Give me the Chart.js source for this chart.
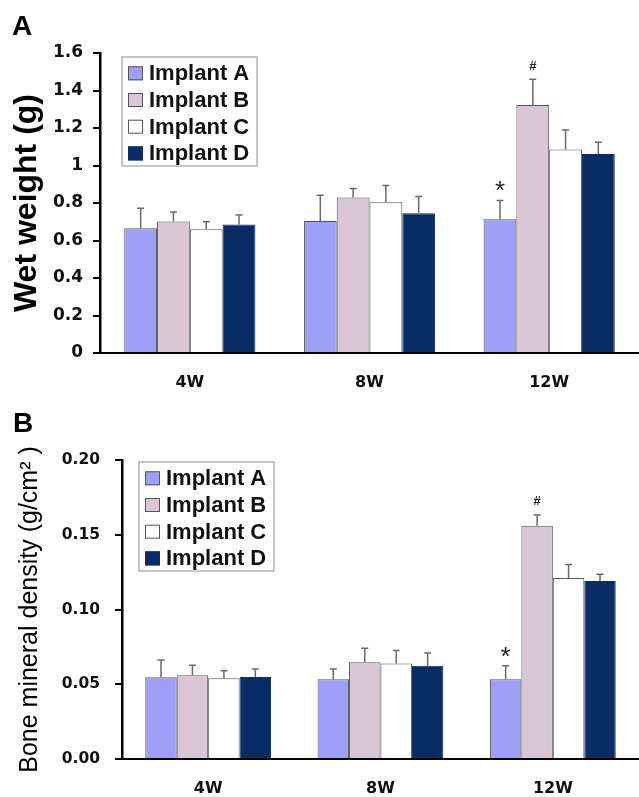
<!DOCTYPE html>
<html>
<head>
<meta charset="utf-8">
<script src="https://cdn.jsdelivr.net/npm/chart.js@4/dist/chart.umd.min.js"></script>
<style>
  html, body { margin: 0; padding: 0; background: #ffffff; }
  #wrapA { position: absolute; left: 0; top: 0; width: 639px; height: 400px; }
  #wrapB { position: absolute; left: 0; top: 400px; width: 639px; height: 397px; }
</style>
</head>
<body>
<div id="wrapA"><canvas id="cA" width="639" height="400"></canvas></div>
<div id="wrapB"><canvas id="cB" width="639" height="397"></canvas></div>
<script>
// ---------- data ----------
const categories = ['4W', '8W', '12W'];
const seriesNames = ['Implant A', 'Implant B', 'Implant C', 'Implant D'];

const wetA = [0.665, 0.704, 0.713];
const wetB = [0.702, 0.830, 1.323];
const wetC = [0.660, 0.804, 1.086];
const wetD = [0.686, 0.745, 1.061];
const wetErrA = [0.107, 0.137, 0.100];
const wetErrB = [0.050, 0.048, 0.137];
const wetErrC = [0.040, 0.090, 0.103];
const wetErrD = [0.050, 0.090, 0.063];

const bmdA = [0.0546, 0.0533, 0.0533];
const bmdB = [0.0560, 0.0647, 0.1560];
const bmdC = [0.0540, 0.0638, 0.1210];
const bmdD = [0.0548, 0.0624, 0.1190];
const bmdErrA = [0.0116, 0.0069, 0.0091];
const bmdErrB = [0.0067, 0.0093, 0.0072];
const bmdErrC = [0.0050, 0.0087, 0.0091];
const bmdErrD = [0.0054, 0.0085, 0.0045];

const marksA = ['', '', '*'];
const marksB = ['', '', '#'];

const wetTickValues = [0, 0.2, 0.4, 0.6, 0.8, 1, 1.2, 1.4, 1.6];
const wetTickLabels = ['0', '0.2', '0.4', '0.6', '0.8', '1', '1.2', '1.4', '1.6'];
const bmdTickValues = [0, 0.05, 0.10, 0.15, 0.20];
const bmdTickLabels = ['0.00', '0.05', '0.10', '0.15', '0.20'];

// ---------- styles ----------
function makeHatch() {
  const c = document.createElement('canvas');
  c.width = 4; c.height = 4;
  const g = c.getContext('2d');
  g.fillStyle = '#a1a1f7'; g.fillRect(0, 0, 4, 4);
  g.fillStyle = '#9999ef';
  g.fillRect(0, 0, 1, 1); g.fillRect(2, 2, 1, 1); g.fillRect(2, 0, 1, 1); g.fillRect(0, 2, 1, 1);
  return g.createPattern(c, 'repeat');
}
const hatchA = makeHatch();
const fills = [hatchA, '#d9c7d5', '#ffffff', '#0a2c66'];
const borders = ['#555555', '#555555', '#555555', '#0a2c66'];

// ---------- plugins ----------
const errorBarPlugin = {
  id: 'errorBars',
  afterDatasetsDraw(chart, args, o) {
    const ctx = chart.ctx, y = chart.scales.y;
    chart.data.datasets.forEach((ds, di) => {
      const meta = chart.getDatasetMeta(di);
      meta.data.forEach((bar, i) => {
        const v = ds.data[i], e = ds.errors[i];
        const yBar = y.getPixelForValue(v);
        const yTop = y.getPixelForValue(v + e);
        ctx.save();
        ctx.strokeStyle = '#6a6a6a';
        ctx.lineWidth = 1.5;
        ctx.beginPath();
        ctx.moveTo(bar.x, yBar); ctx.lineTo(bar.x, yTop);
        ctx.moveTo(bar.x - 3.5, yTop); ctx.lineTo(bar.x + 3.5, yTop);
        ctx.stroke();
        const m = ds.marks ? ds.marks[i] : '';
        if (m) {
          ctx.fillStyle = '#222';
          ctx.textAlign = 'center';
          ctx.textBaseline = 'alphabetic';
          if (m === '*') {
            const s = 26;
            ctx.font = s + 'px "Liberation Sans", Arial, sans-serif';
            const cy = yTop - o.starGap;
            ctx.fillText(m, bar.x, cy + 0.575 * s);
          } else {
            const s = 13;
            ctx.font = 'bold ' + s + 'px "Liberation Sans", Arial, sans-serif';
            const cy = yTop - o.hashGap;
            ctx.fillText(m, bar.x, cy + 0.35 * s);
          }
        }
        ctx.restore();
      });
    });
  }
};

const insetLegendPlugin = {
  id: 'insetLegend',
  afterDraw(chart, args, o) {
    const ctx = chart.ctx, a = chart.chartArea;
    const x0 = a.left + o.dx, y0 = a.top + o.dy;
    ctx.save();
    ctx.strokeStyle = '#b4b4b4';
    ctx.lineWidth = 1.5;
    ctx.strokeRect(x0, y0, 135, 109);
    chart.data.datasets.forEach((ds, i) => {
      const cy = y0 + 16.3 + i * 26.7;
      ctx.fillStyle = ds.backgroundColor;
      ctx.fillRect(x0 + 6, cy - 7, 15, 14);
      ctx.strokeStyle = ds.borderColor;
      ctx.lineWidth = 1;
      ctx.strokeRect(x0 + 6.5, cy - 6.5, 14, 13);
      ctx.fillStyle = '#111';
      ctx.font = 'bold 22px "Liberation Sans", Arial, sans-serif';
      ctx.textAlign = 'left';
      ctx.textBaseline = 'middle';
      ctx.fillText(ds.label, x0 + 27, cy + 1);
    });
    ctx.restore();
  }
};

const panelLabelPlugin = {
  id: 'panelLabel',
  afterDraw(chart, args, o) {
    const ctx = chart.ctx;
    ctx.save();
    ctx.fillStyle = '#000';
    ctx.font = 'bold 28px "Liberation Sans", Arial, sans-serif';
    ctx.textAlign = 'left';
    ctx.textBaseline = 'alphabetic';
    ctx.fillText(o.text, o.x, o.y);
    ctx.restore();
  }
};

// ---------- builder ----------
function buildDatasets(vals, errs) {
  return seriesNames.map((name, i) => ({
    label: name,
    data: vals[i],
    errors: errs[i],
    marks: i === 0 ? marksA : (i === 1 ? marksB : null),
    backgroundColor: fills[i],
    borderColor: borders[i],
    borderWidth: 1,
    categoryPercentage: 0.73,
    barPercentage: 1.0
  }));
}

function makeChart(id, cfg) {
  return new Chart(document.getElementById(id), {
    type: 'bar',
    data: { labels: categories, datasets: buildDatasets(cfg.vals, cfg.errs) },
    plugins: [errorBarPlugin, insetLegendPlugin, panelLabelPlugin],
    options: {
      responsive: false,
      animation: false,
      layout: { padding: { top: cfg.top, left: 0, right: 0, bottom: 0 } },
      plugins: {
        legend: { display: false },
        tooltip: { enabled: false },
        errorBars: { starGap: cfg.starGap, hashGap: cfg.hashGap },
        insetLegend: { dx: cfg.legDx, dy: cfg.legDy },
        panelLabel: cfg.panel
      },
      scales: {
        x: {
          grid: { display: false, drawTicks: false },
          border: { display: true, color: '#000', width: 2 },
          ticks: {
            color: '#111',
            padding: cfg.xPad,
            font: { family: '"DejaVu Sans", sans-serif', weight: 'bold', size: 16 }
          },
          afterFit(s) { s.height = cfg.xH; }
        },
        y: {
          min: 0,
          max: cfg.max,
          afterBuildTicks(s) { s.ticks = cfg.tickValues.map(v => ({ value: v })); },
          grid: { drawOnChartArea: false, drawTicks: true, tickLength: 7, color: '#000', lineWidth: 2 },
          border: { display: true, color: '#000', width: cfg.yBorder },
          ticks: {
            color: '#111',
            padding: cfg.yPad,
            font: { family: '"DejaVu Sans", sans-serif', weight: 'bold', size: cfg.tickSize },
            callback(v, i) { return cfg.tickLabels[i]; }
          },
          title: {
            display: true,
            text: cfg.title,
            color: '#000',
            font: cfg.titleFont,
            padding: { top: cfg.titlePad, bottom: 0 }
          },
          afterFit(s) { s.width = cfg.yW; }
        }
      }
    }
  });
}

makeChart('cA', {
  vals: [wetA, wetB, wetC, wetD],
  errs: [wetErrA, wetErrB, wetErrC, wetErrD],
  top: 53, max: 1.6, xH: 47, yW: 100, xPad: 20, yPad: 10, tickSize: 17, yBorder: 2.5,
  tickValues: wetTickValues, tickLabels: wetTickLabels,
  title: 'Wet weight (g)',
  titleFont: { family: '"Liberation Sans", Arial, sans-serif', weight: 'bold', size: 32, lineHeight: 1.0 },
  titlePad: 11,
  starGap: 17, hashGap: 14,
  legDx: 22, legDy: 4,
  panel: { text: 'A', x: 12, y: 35 }
});

makeChart('cB', {
  vals: [bmdA, bmdB, bmdC, bmdD],
  errs: [bmdErrA, bmdErrB, bmdErrC, bmdErrD],
  top: 60, max: 0.2, xH: 38, yW: 122, xPad: 20, yPad: 15, tickSize: 15.5, yBorder: 2.5,
  tickValues: bmdTickValues, tickLabels: bmdTickLabels,
  title: 'Bone mineral density (g/cm\u00B2 )',
  titleFont: { family: '"Liberation Sans", Arial, sans-serif', weight: 'normal', size: 25, lineHeight: 1.0 },
  titlePad: 18,
  starGap: 16, hashGap: 14.5,
  legDx: 17, legDy: 2,
  panel: { text: 'B', x: 13, y: 31.7 }
});
</script>
</body>
</html>
